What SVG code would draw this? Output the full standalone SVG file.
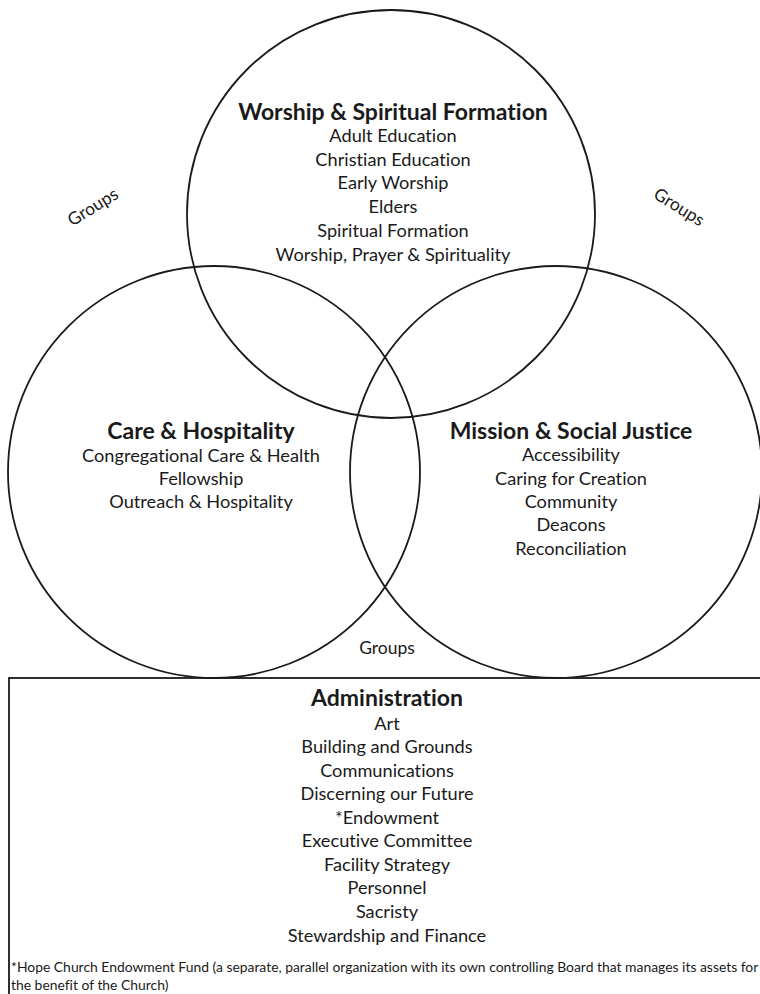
<svg xmlns="http://www.w3.org/2000/svg" width="760" height="994" viewBox="0 0 760 994">
<style>
.c{fill:none;stroke:#1a1a1a;stroke-width:1.8}
text{font-family:Lato,"Open Sans","Liberation Sans",sans-serif;fill:#1a1a1a;text-anchor:middle;font-variant-ligatures:none}
.h{font-weight:bold;font-size:23px}
.i{font-size:18.2px}
.g{font-size:17.5px}
.f{font-size:13.9px;text-anchor:start}
</style>
<rect width="760" height="994" fill="#fff"/>
<g id="worship">
<circle class="c" cx="391" cy="214" r="204"/>
<text class="h" x="393" y="120">Worship &amp; Spiritual Formation</text>
<text class="i" x="393" y="142">Adult Education</text>
<text class="i" x="393" y="166">Christian Education</text>
<text class="i" x="393" y="189">Early Worship</text>
<text class="i" x="393" y="213">Elders</text>
<text class="i" x="393" y="237">Spiritual Formation</text>
<text class="i" x="393" y="261">Worship, Prayer &amp; Spirituality</text>
</g>
<g id="care">
<circle class="c" cx="214" cy="472" r="206"/>
<text class="h" x="201" y="439">Care &amp; Hospitality</text>
<text class="i" x="201" y="462">Congregational Care &amp; Health</text>
<text class="i" x="201" y="485">Fellowship</text>
<text class="i" x="201" y="508">Outreach &amp; Hospitality</text>
</g>
<g id="mission">
<circle class="c" cx="556" cy="472" r="206"/>
<text class="h" x="571" y="439">Mission &amp; Social Justice</text>
<text class="i" x="571" y="461">Accessibility</text>
<text class="i" x="571" y="485">Caring for Creation</text>
<text class="i" x="571" y="508">Community</text>
<text class="i" x="571" y="531">Deacons</text>
<text class="i" x="571" y="555">Reconciliation</text>
</g>
<g id="groups">
<text class="g" transform="translate(96,212) rotate(-32)">Groups</text>
<text class="g" transform="translate(676,212) rotate(32)">Groups</text>
<text class="g" x="387" y="654">Groups</text>
</g>
<g id="administration">
<rect class="c" x="9" y="678" width="760" height="330" stroke-width="2"/>
<text class="h" x="387" y="706">Administration</text>
<text class="i" x="387" y="730">Art</text>
<text class="i" x="387" y="753">Building and Grounds</text>
<text class="i" x="387" y="777">Communications</text>
<text class="i" x="387" y="800">Discerning our Future</text>
<text class="i" x="387" y="824">*Endowment</text>
<text class="i" x="387" y="847">Executive Committee</text>
<text class="i" x="387" y="871">Facility Strategy</text>
<text class="i" x="387" y="894">Personnel</text>
<text class="i" x="387" y="918">Sacristy</text>
<text class="i" x="387" y="942">Stewardship and Finance</text>
<text class="f" x="11" y="972">*Hope Church Endowment Fund (a separate, parallel organization with its own controlling Board that manages its assets for</text>
<text class="f" x="11" y="990">the benefit of the Church)</text>
</g>
</svg>
